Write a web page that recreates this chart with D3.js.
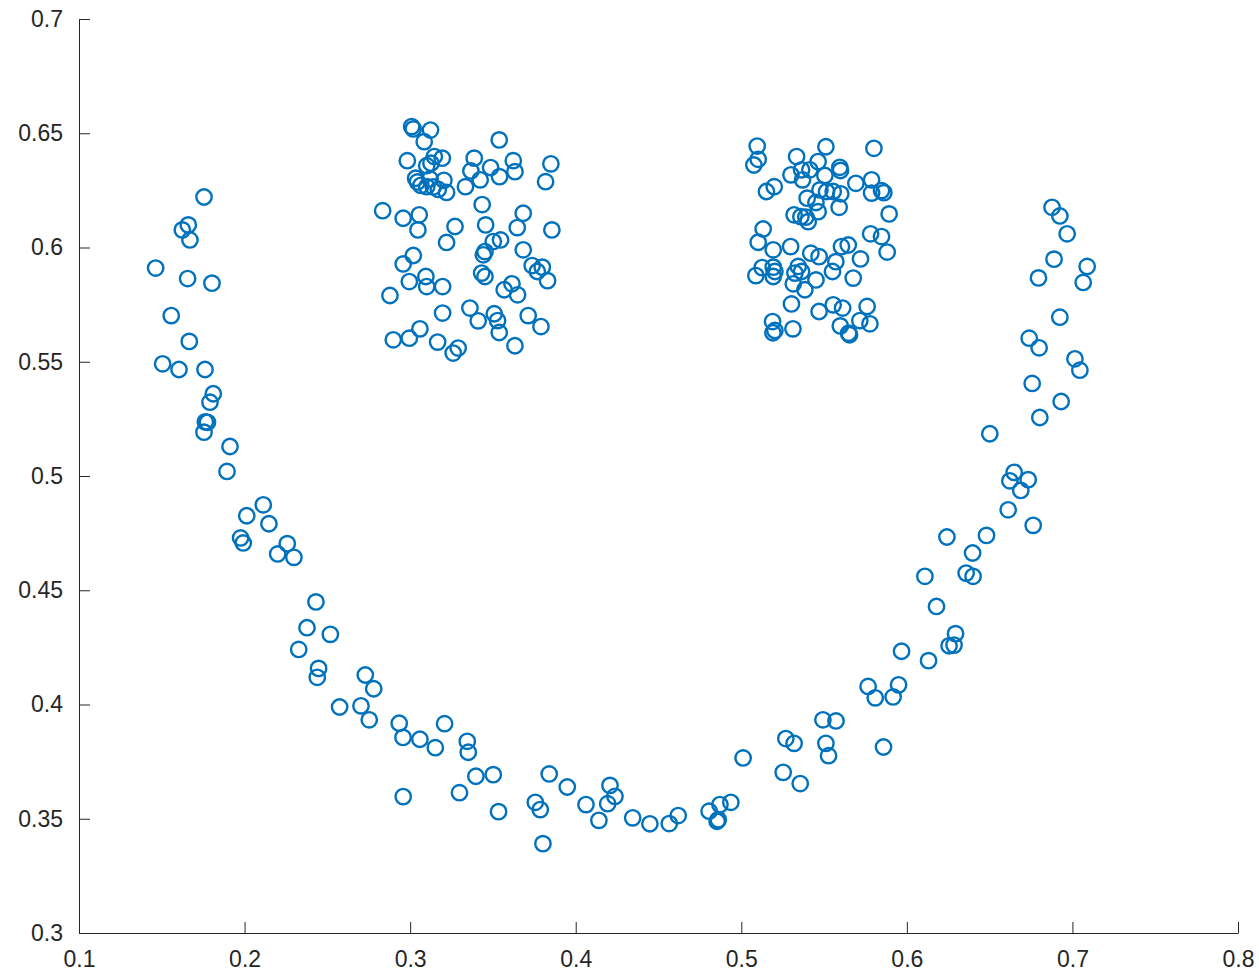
<!DOCTYPE html>
<html>
<head>
<meta charset="utf-8">
<script src="https://cdn.jsdelivr.net/npm/d3@7"></script>
<style>
  html, body { margin: 0; padding: 0; background: #fff; }
  svg { display: block; }
  .axis text { font-family: "Liberation Sans", Arial, Helvetica, sans-serif; font-size: 23px; fill: #262626; }
  .axis path, .axis line { stroke: #262626; stroke-width: 1; }
</style>
</head>
<body>
<svg id="chart" width="1259" height="976"></svg>
<script>
// Scatter sample: the curved band (bottom arc) plus two rectangular blobs on top.
const arcX = [
  0.1755, 0.1660, 0.1624, 0.1670, 0.1463, 0.1656, 0.1803, 0.1557, 0.1666, 0.1505,
  0.1604, 0.1761, 0.1811, 0.1791, 0.1763, 0.1776, 0.1755, 0.1912, 0.1894, 0.2113,
  0.2013, 0.2147, 0.1976, 0.1992, 0.2258, 0.2200, 0.2298, 0.2431, 0.2377, 0.2518,
  0.2327, 0.2447, 0.2439, 0.2729, 0.2780, 0.2574, 0.2703, 0.2753, 0.2934, 0.2957,
  0.3059, 0.3152, 0.3208, 0.3345, 0.3351, 0.2958, 0.3298, 0.3397, 0.3502, 0.3534,
  0.3840, 0.3949, 0.3756, 0.3786, 0.3802, 0.4062, 0.4140, 0.4207, 0.4237, 0.4193,
  0.4344, 0.4448, 0.4565, 0.4619, 0.4806, 0.4861, 0.4854, 0.4871, 0.4937, 0.5011,
  0.5253, 0.5356, 0.5269, 0.5319, 0.5511, 0.5527, 0.5493, 0.5572, 0.5859, 0.5766,
  0.5950, 0.5809, 0.5917, 0.5968, 0.6131, 0.6255, 0.6285, 0.6294, 0.6179, 0.6109,
  0.6358, 0.6400, 0.6397, 0.6242, 0.6481, 0.6612, 0.6763, 0.6688, 0.6622, 0.6733,
  0.6648, 0.6501, 0.6803, 0.6932, 0.6757, 0.7015, 0.7045, 0.6739, 0.6799, 0.6924,
  0.6795, 0.7065, 0.7089, 0.6889, 0.6968, 0.6924, 0.6877
];
const arcY = [
  0.6221, 0.6099, 0.6077, 0.6033, 0.5910, 0.5864, 0.5844, 0.5702, 0.5589, 0.5491,
  0.5466, 0.5466, 0.5360, 0.5323, 0.5237, 0.5235, 0.5192, 0.5129, 0.5020, 0.4874,
  0.4826, 0.4791, 0.4729, 0.4707, 0.4704, 0.4659, 0.4644, 0.4449, 0.4336, 0.4307,
  0.4241, 0.4158, 0.4119, 0.4129, 0.4069, 0.3989, 0.3994, 0.3933, 0.3918, 0.3856,
  0.3848, 0.3811, 0.3916, 0.3839, 0.3791, 0.3597, 0.3614, 0.3686, 0.3693, 0.3531,
  0.3696, 0.3639, 0.3572, 0.3540, 0.3391, 0.3562, 0.3493, 0.3646, 0.3598, 0.3566,
  0.3504, 0.3478, 0.3479, 0.3514, 0.3533, 0.3496, 0.3489, 0.3562, 0.3572, 0.3766,
  0.3703, 0.3654, 0.3851, 0.3830, 0.3830, 0.3776, 0.3933, 0.3928, 0.3814, 0.4079,
  0.4086, 0.4029, 0.4033, 0.4233, 0.4192, 0.4257, 0.4260, 0.4310, 0.4429, 0.4561,
  0.4575, 0.4561, 0.4663, 0.4733, 0.4740, 0.4852, 0.4784, 0.4937, 0.4979, 0.4984,
  0.5016, 0.5185, 0.5256, 0.5326, 0.5405, 0.5513, 0.5463, 0.5603, 0.5561, 0.5695,
  0.5867, 0.5847, 0.5917, 0.5949, 0.6060, 0.6138, 0.6176
];

const leftBlobX = [
  0.3009, 0.3019, 0.3123, 0.3085, 0.3538, 0.2983, 0.3146, 0.3194, 0.3126, 0.3100,
  0.3387, 0.3623, 0.3850, 0.3367, 0.3486, 0.3633, 0.3423, 0.3540, 0.3818, 0.3033,
  0.3044, 0.3120, 0.3204, 0.3065, 0.3100, 0.3140, 0.3170, 0.3220, 0.3334, 0.3435,
  0.2834, 0.2958, 0.3055, 0.3047, 0.3271, 0.3456, 0.3683, 0.3647, 0.3856, 0.3220,
  0.3502, 0.3546, 0.3452, 0.3442, 0.3683, 0.3019, 0.2958, 0.3737, 0.3798, 0.3768,
  0.3830, 0.3432, 0.3452, 0.3095, 0.2995, 0.3100, 0.3196, 0.3615, 0.3568, 0.3649,
  0.2878, 0.3196, 0.3361, 0.3411, 0.3508, 0.3528, 0.3713, 0.3790, 0.3538, 0.3059,
  0.2995, 0.2898, 0.3166, 0.3290, 0.3260, 0.3633
];
const leftBlobY = [
  0.6529, 0.6519, 0.6514, 0.6463, 0.6471, 0.6380, 0.6398, 0.6391, 0.6369, 0.6358,
  0.6391, 0.6380, 0.6366, 0.6335, 0.6350, 0.6332, 0.6296, 0.6310, 0.6288, 0.6303,
  0.6287, 0.6300, 0.6294, 0.6272, 0.6266, 0.6265, 0.6254, 0.6241, 0.6266, 0.6188,
  0.6161, 0.6128, 0.6143, 0.6077, 0.6092, 0.6099, 0.6150, 0.6087, 0.6077, 0.6022,
  0.6026, 0.6033, 0.5982, 0.5968, 0.5990, 0.5965, 0.5928, 0.5921, 0.5914, 0.5895,
  0.5855, 0.5888, 0.5873, 0.5873, 0.5851, 0.5829, 0.5829, 0.5841, 0.5815, 0.5793,
  0.5790, 0.5713, 0.5735, 0.5679, 0.5710, 0.5680, 0.5702, 0.5654, 0.5628, 0.5644,
  0.5603, 0.5596, 0.5586, 0.5560, 0.5538, 0.5570
];

const rightBlobX = [
  0.5096, 0.5102, 0.5076, 0.5511, 0.5801, 0.5334, 0.5464, 0.5300, 0.5364, 0.5414,
  0.5370, 0.5505, 0.5595, 0.5599, 0.5692, 0.5787, 0.5787, 0.5847, 0.5861, 0.5893,
  0.5152, 0.5199, 0.5475, 0.5515, 0.5555, 0.5601, 0.5398, 0.5451, 0.5464, 0.5591,
  0.5319, 0.5360, 0.5390, 0.5404, 0.5132, 0.5102, 0.5193, 0.5298, 0.5781, 0.5847,
  0.5881, 0.5605, 0.5646, 0.5420, 0.5470, 0.5720, 0.5571, 0.5088, 0.5126, 0.5193,
  0.5203, 0.5193, 0.5344, 0.5364, 0.5324, 0.5314, 0.5384, 0.5451, 0.5551, 0.5676,
  0.5303, 0.5470, 0.5555, 0.5612, 0.5760, 0.5716, 0.5777, 0.5189, 0.5203, 0.5191,
  0.5312, 0.5598, 0.5648, 0.5654
];
const rightBlobY = [
  0.6444, 0.6386, 0.6361, 0.6441, 0.6434, 0.6398, 0.6376, 0.6318, 0.6340, 0.6340,
  0.6296, 0.6315, 0.6351, 0.6337, 0.6281, 0.6296, 0.6238, 0.6249, 0.6240, 0.6147,
  0.6245, 0.6266, 0.6252, 0.6245, 0.6245, 0.6235, 0.6216, 0.6197, 0.6157, 0.6176,
  0.6143, 0.6135, 0.6133, 0.6113, 0.6081, 0.6023, 0.5990, 0.6004, 0.6060, 0.6048,
  0.5980, 0.6004, 0.6011, 0.5975, 0.5960, 0.5950, 0.5938, 0.5877, 0.5912, 0.5914,
  0.5895, 0.5873, 0.5917, 0.5895, 0.5888, 0.5841, 0.5815, 0.5858, 0.5895, 0.5866,
  0.5753, 0.5720, 0.5749, 0.5735, 0.5742, 0.5680, 0.5666, 0.5676, 0.5637, 0.5627,
  0.5644, 0.5657, 0.5625, 0.5618
];

const xTicks = [0.1, 0.2, 0.3, 0.4, 0.5, 0.6, 0.7, 0.8];
const yTicks = [0.3, 0.35, 0.4, 0.45, 0.5, 0.55, 0.6, 0.65, 0.7];

const svg = d3.select("#chart");
const x = d3.scaleLinear().domain([0.1, 0.8]).range([79, 1238]);
const y = d3.scaleLinear().domain([0.3, 0.7]).range([933, 19]);

const points = [];
[[arcX, arcY], [leftBlobX, leftBlobY], [rightBlobX, rightBlobY]].forEach(([xs, ys]) => {
  xs.forEach((v, i) => points.push({ x: v, y: ys[i] }));
});

svg.append("g")
  .selectAll("circle")
  .data(points)
  .join("circle")
  .attr("cx", d => x(d.x))
  .attr("cy", d => y(d.y))
  .attr("r", 7.7)
  .attr("fill", "none")
  .attr("stroke", "#0072BD")
  .attr("stroke-width", 2.4);

const fmt = d => String(+d.toFixed(2));

svg.append("g")
  .attr("class", "axis")
  .attr("transform", `translate(0,${y(0.3)})`)
  .call(d3.axisBottom(x).tickValues(xTicks).tickFormat(fmt).tickSizeInner(-11).tickSizeOuter(0).tickPadding(18));

svg.append("g")
  .attr("class", "axis")
  .attr("transform", `translate(${x(0.1)},0)`)
  .call(d3.axisLeft(y).tickValues(yTicks).tickFormat(fmt).tickSizeInner(-11).tickSizeOuter(0).tickPadding(16));
</script>
</body>
</html>
